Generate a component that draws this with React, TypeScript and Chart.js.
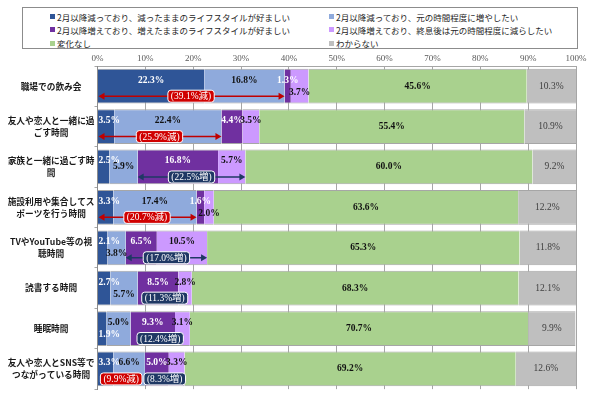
import React, { useEffect, useRef } from 'react';
import { Chart, registerables } from 'chart.js';

Chart.register(...registerables);

// ---- data ----
const categories: (string | string[])[] = [
  '職場での飲み会',
  ['友人や恋人と一緒に過', 'ごす時間'],
  ['家族と一緒に過ごす時', '間'],
  ['施設利用や集合してス', 'ポーツを行う時間'],
  ['TVやYouTube等の視', '聴時間'],
  '読書する時間',
  '睡眠時間',
  ['友人や恋人とSNS等で', 'つながっている時間'],
];
const seriesNames = [
  '2月以降減っており、減ったままのライフスタイルが好ましい',
  '2月以降減っており、元の時間程度に増やしたい',
  '2月以降増えており、増えたままのライフスタイルが好ましい',
  '2月以降増えており、終息後は元の時間程度に減らしたい',
  '変化なし',
  'わからない',
];
const decKeep = [22.3, 3.5, 2.5, 3.3, 2.1, 2.7, 1.9, 3.3];
const decRestore = [16.8, 22.4, 5.9, 17.4, 3.8, 5.7, 5.0, 6.6];
const incKeep = [1.3, 4.4, 16.8, 1.6, 6.5, 8.5, 9.3, 5.0];
const incReduce = [3.7, 3.5, 5.7, 2.0, 10.5, 2.8, 3.1, 3.3];
const noChange = [45.6, 55.4, 60.0, 63.6, 65.3, 68.3, 70.7, 69.2];
const unknown = [10.3, 10.9, 9.2, 12.2, 11.8, 12.1, 9.9, 12.6];
const xTickValues = [0, 10, 20, 30, 40, 50, 60, 70, 80, 90, 100];
// which summary marks are shown per row
const decMark = ['arrow', 'arrow', 'none', 'arrow', 'none', 'none', 'none', 'box'];
const incMark = ['none', 'none', 'arrow', 'none', 'arrow', 'box', 'box', 'box'];

// ---- styles ----
const colors = ['#2F5597', '#8FAADC', '#7030A0', '#CC99FF', '#A9D18E', '#BFBFBF'];
const labelColors = ['#FFFFFF', '#111111', '#FFFFFF', '#111111', '#111111', '#404040'];
const labelPos = [
  ['u', 'u', 'u', 'l'],
  ['u', 'u', 'u', 'u'],
  ['u', 'm', 'u', 'u'],
  ['u', 'u', 'u', 'l'],
  ['u', 'l', 'u', 'u'],
  ['u', 'l', 'u', 'u'],
  ['l', 'u', 'u', 'u'],
  ['u', 'u', 'u', 'u'],
];
const NUM_FONT = "'Liberation Serif', 'Noto Sans CJK JP', serif";
const RED = '#C00000';
const NAVY = '#1F3864';

function roundRect(ctx: CanvasRenderingContext2D, x: number, y: number, w: number, h: number, r: number) {
  ctx.beginPath();
  ctx.moveTo(x + r, y);
  ctx.lineTo(x + w - r, y);
  ctx.quadraticCurveTo(x + w, y, x + w, y + r);
  ctx.lineTo(x + w, y + h - r);
  ctx.quadraticCurveTo(x + w, y + h, x + w - r, y + h);
  ctx.lineTo(x + r, y + h);
  ctx.quadraticCurveTo(x, y + h, x, y + h - r);
  ctx.lineTo(x, y + r);
  ctx.quadraticCurveTo(x, y, x + r, y);
  ctx.closePath();
}

function drawArrow(ctx: CanvasRenderingContext2D, x1: number, x2: number, y: number, color: string) {
  ctx.save();
  ctx.strokeStyle = color;
  ctx.fillStyle = color;
  ctx.lineWidth = 1.5;
  ctx.beginPath();
  ctx.moveTo(x1 + 4, y);
  ctx.lineTo(x2 - 4, y);
  ctx.stroke();
  ctx.beginPath();
  ctx.moveTo(x1, y);
  ctx.lineTo(x1 + 6, y - 3.5);
  ctx.lineTo(x1 + 6, y + 3.5);
  ctx.closePath();
  ctx.fill();
  ctx.beginPath();
  ctx.moveTo(x2, y);
  ctx.lineTo(x2 - 6, y - 3.5);
  ctx.lineTo(x2 - 6, y + 3.5);
  ctx.closePath();
  ctx.fill();
  ctx.restore();
}

function drawBox(ctx: CanvasRenderingContext2D, cx: number, cy: number, text: string, color: string) {
  ctx.save();
  ctx.font = `9.5px ${NUM_FONT}`;
  const tw = ctx.measureText(text).width;
  const w = tw + 6;
  const h = 12;
  roundRect(ctx, cx - w / 2, cy - h / 2, w, h, 3);
  ctx.fillStyle = color;
  ctx.fill();
  ctx.strokeStyle = '#FFFFFF';
  ctx.lineWidth = 1;
  ctx.stroke();
  ctx.fillStyle = '#FFFFFF';
  ctx.textAlign = 'center';
  ctx.textBaseline = 'middle';
  ctx.fillText(text, cx, cy + 0.5);
  ctx.restore();
}

const overlayPlugin = {
  id: 'overlay',
  afterDatasetsDraw(chart: any) {
    const ctx: CanvasRenderingContext2D = chart.ctx;
    const xs = chart.scales.x;
    const left = chart.chartArea.left;
    ctx.save();
    // value labels
    chart.data.datasets.forEach((ds: any, di: number) => {
      const meta = chart.getDatasetMeta(di);
      meta.data.forEach((el: any, ri: number) => {
        const { x, y, base } = el.getProps(['x', 'y', 'base'], true);
        const v = ds.data[ri];
        const text = v.toFixed(1) + '%';
        ctx.font = `${di === 5 ? 'normal' : 'bold'} 9.5px ${NUM_FONT}`;
        const tw = ctx.measureText(text).width;
        let cx = (x + base) / 2;
        cx = Math.max(cx, left + tw / 2 + 1);
        let cy = y;
        if (di < 4) {
          const p = labelPos[ri][di];
          if (p === 'u') cy = y - 6;
          else if (p === 'l') cy = y + 6;
        }
        ctx.fillStyle = labelColors[di];
        ctx.textAlign = 'center';
        ctx.textBaseline = 'middle';
        ctx.fillText(text, cx, cy);
      });
    });
    // summary arrows / boxes
    const meta0 = chart.getDatasetMeta(0);
    meta0.data.forEach((el: any, ri: number) => {
      const { y } = el.getProps(['y'], true);
      const ay = y + 10;
      const decTotal = decKeep[ri] + decRestore[ri];
      const incTotal = incKeep[ri] + incReduce[ri];
      if (decMark[ri] !== 'none') {
        const x1 = xs.getPixelForValue(0);
        const x2 = xs.getPixelForValue(decTotal);
        if (decMark[ri] === 'arrow') drawArrow(ctx, x1 + 1, x2, ay, RED);
        drawBox(ctx, (x1 + x2) / 2, ay, `(${decTotal.toFixed(1)}%減)`, '#D00000');
      }
      if (incMark[ri] !== 'none') {
        const x1 = xs.getPixelForValue(decTotal);
        const x2 = xs.getPixelForValue(decTotal + incTotal);
        if (incMark[ri] === 'arrow') drawArrow(ctx, x1, x2, ay, NAVY);
        drawBox(ctx, (x1 + x2) / 2, ay, `(${incTotal.toFixed(1)}%増)`, NAVY);
      }
    });
    ctx.restore();
  },
};

export default function App() {
  const ref = useRef<HTMLCanvasElement | null>(null);

  useEffect(() => {
    if (!ref.current) return;
    const series = [decKeep, decRestore, incKeep, incReduce, noChange, unknown];
    const chart = new Chart(ref.current, {
      type: 'bar',
      data: {
        labels: categories as any,
        datasets: series.map((d, i) => ({
          label: seriesNames[i],
          data: d,
          backgroundColor: colors[i],
          borderColor: '#A6A6A6',
          borderWidth: { top: 1, bottom: 1, left: 0, right: 0 },
          borderSkipped: false,
          barPercentage: 0.86,
          categoryPercentage: 1,
        })),
      },
      options: {
        indexAxis: 'y',
        animation: false,
        responsive: true,
        maintainAspectRatio: false,
        layout: { padding: { left: 0, right: 14, top: 0, bottom: 5 } },
        plugins: {
          legend: { display: false },
          tooltip: { enabled: false },
        },
        scales: {
          x: {
            position: 'top',
            stacked: true,
            min: 0,
            max: 100,
            afterBuildTicks: (s: any) => {
              s.ticks = xTickValues.map((v) => ({ value: v }));
            },
            afterFit: (s: any) => {
              s.height = 16;
            },
            ticks: {
              padding: 2,
              color: '#595959',
              font: { family: NUM_FONT, size: 9 },
              callback: (v: any) => v + '%',
            },
            grid: { color: '#A6A6A6', drawTicks: false },
            border: { display: true, color: '#A6A6A6' },
          },
          y: {
            stacked: true,
            afterFit: (s: any) => {
              s.width = 97.5;
            },
            ticks: {
              crossAlign: 'center',
              padding: 0,
              color: '#1a1a1a',
              font: { family: "'Noto Sans CJK JP', sans-serif", size: 8.7, weight: 'bold', lineHeight: 1.35 },
            },
            grid: { display: true, drawOnChartArea: false, offset: true, tickLength: 3, color: '#A6A6A6' },
            border: { display: true, color: '#8C8C8C' },
          },
        },
      },
      plugins: [overlayPlugin],
    } as any);
    return () => chart.destroy();
  }, []);

  const legendRows = [
    [0, 1],
    [2, 3],
    [4, 5],
  ];

  return (
    <div style={{ position: 'absolute', left: 0, top: 0, width: 590, height: 395, background: '#fff', fontFamily: "'Noto Sans CJK JP', sans-serif" }}>
      <div
        style={{
          position: 'absolute',
          left: 22,
          top: 7,
          width: 556,
          height: 42,
          border: '1px solid #8C8C8C',
          boxSizing: 'border-box',
        }}
      >
        {legendRows.map((row, ri) =>
          row.map((si, ci) => (
            <div
              key={si}
              style={{
                position: 'absolute',
                left: ci === 0 ? 27 : 306,
                top: 2 + ri * 13.3,
                height: 13,
                display: 'flex',
                alignItems: 'center',
                fontSize: 8.5,
                color: '#262626',
                whiteSpace: 'nowrap',
              }}
            >
              <span style={{ display: 'inline-block', width: 5, height: 5, background: colors[si], marginRight: 2 }} />
              <span>{seriesNames[si]}</span>
            </div>
          ))
        )}
      </div>
      <div style={{ position: 'absolute', left: 0, top: 50, width: 590, height: 345 }}>
        <canvas ref={ref} />
      </div>
    </div>
  );
}
